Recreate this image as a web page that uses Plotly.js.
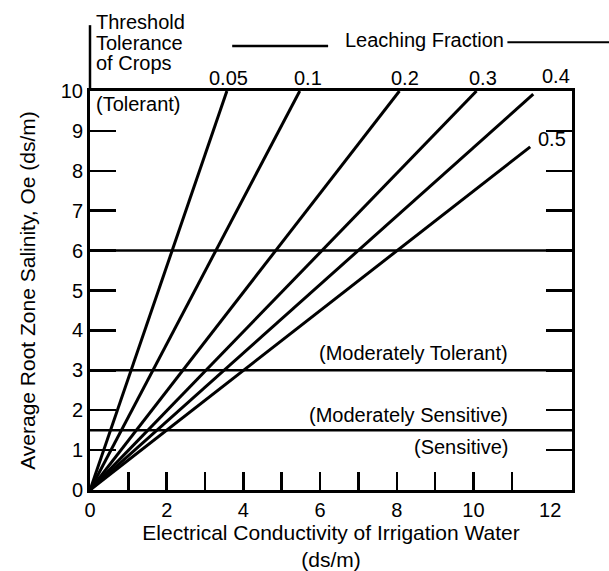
<!DOCTYPE html>
<html>
<head>
<meta charset="utf-8">
<script src="https://cdn.plot.ly/plotly-3.0.1.min.js"></script>
<style>html,body{margin:0;padding:0;background:#fff;}#chart{width:609px;height:571px;}</style>
</head>
<body>
<div id="chart"></div>
<script>
// ---- data ----
const leachingFractions = ['0.05', '0.1', '0.2', '0.3', '0.4', '0.5'];
// end points of each leaching-fraction line (ECw, ECe); every line starts at the origin
const ecwEnd = [3.57, 5.47, 8.07, 10.08, 11.56, 11.48];
const eceEnd = [10, 10, 10, 10, 9.92, 8.6];
// crop tolerance thresholds (ECe, dS/m)
const thresholdValues = [6, 3, 1.5];
const toleranceClasses = ['(Tolerant)', '(Moderately Tolerant)', '(Moderately Sensitive)', '(Sensitive)'];
const xTickLabels = [0, 2, 4, 6, 8, 10, 12];
const xMinorTicks = [1, 2, 3, 4, 5, 6, 7, 8, 9, 10, 11];
const yTickLabels = [0, 1, 2, 3, 4, 5, 6, 7, 8, 9, 10];

// ---- styling / placement ----
const FONT = 'Liberation Sans, Arial, Helvetica, sans-serif';
const INK = '#000';
const lfLabelShift = [[2, 0], [8, 0], [6, 0], [6, 0], [23, 2], [6, 8]]; // px offsets
const classLabelPos = [[0, 9.67, 'left', 4], [10.95, 3.43, 'right', 0], [10.95, 1.87, 'right', 0], [10.95, 1.08, 'right', 0]];

const traces = leachingFractions.map((lf, i) => ({
  type: 'scatter', mode: 'lines', name: 'LF ' + lf,
  x: [0, ecwEnd[i]], y: [0, eceEnd[i]],
  line: {color: INK, width: 3}, hoverinfo: 'skip', showlegend: false
}));

const shapes = thresholdValues.map(v => ({
  type: 'line', xref: 'paper', yref: 'y', x0: 0, x1: 1, y0: v, y1: v,
  line: {color: INK, width: 2.5}
}));
// left axis extension above the frame and the "Leaching Fraction" rule
shapes.push({type: 'line', xref: 'paper', yref: 'paper', x0: 0, x1: 0, y0: 1, y1: 1.165, line: {color: INK, width: 2.5}});
shapes.push({type: 'line', xref: 'paper', yref: 'paper', x0: 0.295, x1: 0.494, y0: 1.113, y1: 1.113, line: {color: INK, width: 2.5}});
shapes.push({type: 'line', xref: 'paper', yref: 'paper', x0: 0.866, x1: 1.08, y0: 1.122, y1: 1.122, line: {color: INK, width: 2}});

const annotations = [];
leachingFractions.forEach((lf, i) => {
  const last = i === leachingFractions.length - 1;
  annotations.push({
    x: ecwEnd[i], y: last ? eceEnd[i] : 10, xref: 'x', yref: 'y',
    text: lf, showarrow: false,
    xanchor: last ? 'left' : 'center', yanchor: last ? 'middle' : 'bottom',
    xshift: lfLabelShift[i][0], yshift: lfLabelShift[i][1],
    font: {family: FONT, size: 20, color: INK}
  });
});
toleranceClasses.forEach((t, i) => {
  const p = classLabelPos[i];
  annotations.push({
    x: p[0], y: p[1], xref: 'x', yref: 'y', text: t, showarrow: false,
    xanchor: p[2], yanchor: 'middle', xshift: p[3],
    font: {family: FONT, size: 20, color: INK}
  });
});
['Threshold', 'Tolerance', 'of Crops'].forEach((t, i) => {
  annotations.push({
    x: 0, y: 1, xref: 'paper', yref: 'paper', text: t, showarrow: false,
    xanchor: 'left', yanchor: 'middle', xshift: 4, yshift: 69 - 20.5 * i,
    font: {family: FONT, size: 20, color: INK}
  });
});
annotations.push({
  x: 0.695, y: 1, xref: 'paper', yref: 'paper', text: 'Leaching Fraction', showarrow: false,
  xanchor: 'center', yanchor: 'middle', yshift: 51,
  font: {family: FONT, size: 20, color: INK}
});

const layout = {
  width: 609, height: 571,
  margin: {l: 90, r: 37, t: 91, b: 81},
  paper_bgcolor: '#fff', plot_bgcolor: '#fff',
  font: {family: FONT, size: 20, color: INK},
  showlegend: false,
  xaxis: {
    range: [0, 12.57], showgrid: false, zeroline: false,
    showline: true, linecolor: INK, linewidth: 3, mirror: true,
    tickmode: 'array', tickvals: xTickLabels, ticktext: xTickLabels.map(String),
    ticks: '', tickfont: {family: FONT, size: 20, color: INK},
    minor: {tickmode: 'array', tickvals: xMinorTicks, ticks: 'inside', ticklen: 18, tickwidth: 2.5, tickcolor: INK, showgrid: false},
    title: {text: 'Electrical Conductivity of Irrigation Water<br>(ds/m)', font: {family: FONT, size: 21, color: INK}, standoff: 8}
  },
  yaxis: {
    range: [0, 10], showgrid: false, zeroline: false,
    showline: true, linecolor: INK, linewidth: 3, mirror: 'ticks',
    tickmode: 'array', tickvals: yTickLabels, ticktext: yTickLabels.map(String),
    ticks: 'inside', ticklen: 26, tickwidth: 2.5, tickcolor: INK,
    tickfont: {family: FONT, size: 20, color: INK},
    title: {text: 'Average Root Zone Salinity, Oe (ds/m)', font: {family: FONT, size: 21, color: INK}, standoff: 20}
  },
  shapes: shapes,
  annotations: annotations
};

Plotly.newPlot('chart', traces, layout, {displayModeBar: false, staticPlot: true});
</script>
</body>
</html>
